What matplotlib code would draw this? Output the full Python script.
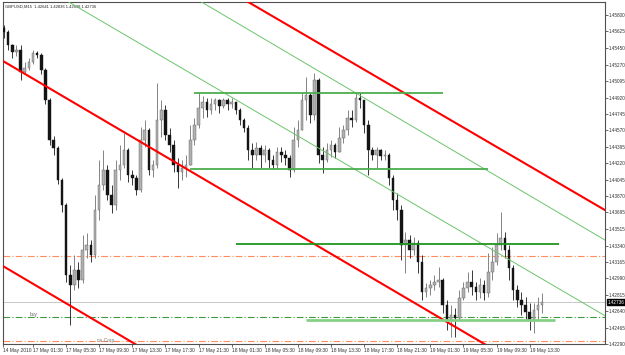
import numpy as np
import matplotlib.pyplot as plt
from matplotlib.transforms import blended_transform_factory

plt.rcParams['font.family'] = ['Liberation Sans', 'DejaVu Sans']

# GBPUSD candles (open of each bar = close of the bar before)
first_open = 1.4566
closes = [
    1.4562, 1.4548, 1.4541, 1.4543, 1.4519, 1.4523, 1.4530, 1.4539, 1.4537, 1.4521,
    1.4489, 1.4447, 1.4438, 1.4404, 1.4377, 1.4303, 1.4292, 1.4308, 1.4297, 1.4329,
    1.4335, 1.4324, 1.4372, 1.4399, 1.4415, 1.4388, 1.4377, 1.4415, 1.4420, 1.4436,
    1.4409, 1.4406, 1.4393, 1.4447, 1.4457, 1.4415, 1.4420, 1.4468, 1.4479, 1.4452,
    1.4441, 1.4420, 1.4412, 1.4417, 1.4420, 1.4447, 1.4463, 1.4481, 1.4487, 1.4479,
    1.4485, 1.4489, 1.4483, 1.4489, 1.4485, 1.4487, 1.4479, 1.4468, 1.4459, 1.4436,
    1.4431, 1.4438, 1.4431, 1.4436, 1.4425, 1.4420, 1.4434, 1.4431, 1.4427, 1.4415,
    1.4447, 1.4457, 1.4489, 1.4495, 1.4473, 1.4511, 1.4431, 1.4425, 1.4436, 1.4441,
    1.4434, 1.4449, 1.4457, 1.4470, 1.4468, 1.4491, 1.4489, 1.4463, 1.4436, 1.4431,
    1.4436, 1.4430, 1.4431, 1.4406, 1.4383, 1.4372, 1.4335, 1.4340, 1.4329, 1.4337,
    1.4316, 1.4284, 1.4289, 1.4292, 1.4295, 1.4297, 1.4271, 1.4255, 1.4260, 1.4257,
    1.4278, 1.4289, 1.4295, 1.4290, 1.4284, 1.4292, 1.4283, 1.4306, 1.4316, 1.4335,
    1.4342, 1.4329, 1.4310, 1.4287, 1.4276, 1.4271, 1.4263, 1.4255, 1.4265, 1.4271,
    1.42736,
]
highs = [
    1.4569, 1.4564, 1.4549, 1.4548, 1.4548, 1.4530, 1.4534, 1.4543, 1.4542, 1.4539,
    1.4523, 1.4491, 1.4451, 1.4440, 1.4406, 1.4379, 1.4313, 1.4324, 1.4316, 1.4345,
    1.4347, 1.4340, 1.4388, 1.4425, 1.4436, 1.4420, 1.4399, 1.4425, 1.4441, 1.4454,
    1.4438, 1.4415, 1.4409, 1.4460, 1.4468, 1.4459, 1.4425, 1.4508, 1.4489, 1.4484,
    1.4459, 1.4447, 1.4427, 1.4425, 1.4431, 1.4463, 1.4470, 1.4498, 1.4494, 1.4491,
    1.4491, 1.4492, 1.4490, 1.4492, 1.4491, 1.4492, 1.4487, 1.4481, 1.4470, 1.4463,
    1.4443, 1.4444, 1.4441, 1.4441, 1.4438, 1.4431, 1.4439, 1.4439, 1.4436, 1.4431,
    1.4460, 1.4468, 1.4497, 1.4514, 1.4497, 1.4518, 1.4513, 1.4439, 1.4443, 1.4447,
    1.4443, 1.4460, 1.4463, 1.4479, 1.4479, 1.4497, 1.4497, 1.4489, 1.4468, 1.4439,
    1.4439, 1.4437, 1.4436, 1.4433, 1.4409, 1.4390, 1.4377, 1.4348, 1.4345, 1.4343,
    1.4340, 1.4324, 1.4294, 1.4297, 1.4303, 1.4311, 1.4299, 1.4276, 1.4271, 1.4267,
    1.4287, 1.4295, 1.4306, 1.4308, 1.4295, 1.4299, 1.4297, 1.4326, 1.4332, 1.4347,
    1.4370, 1.4348, 1.4335, 1.4313, 1.4292, 1.4284, 1.4279, 1.4273, 1.4273, 1.4279,
    1.42836,
]
lows = [
    1.4556, 1.4543, 1.4534, 1.4536, 1.4511, 1.4518, 1.4521, 1.4528, 1.4534, 1.4517,
    1.4485, 1.4441, 1.4431, 1.4400, 1.4370, 1.4295, 1.4249, 1.4287, 1.4289, 1.4294,
    1.4321, 1.4316, 1.4321, 1.4361, 1.4393, 1.4383, 1.4369, 1.4372, 1.4404, 1.4417,
    1.4402, 1.4399, 1.4388, 1.4391, 1.4439, 1.4409, 1.4407, 1.4417, 1.4450, 1.4447,
    1.4434, 1.4412, 1.4395, 1.4404, 1.4407, 1.4420, 1.4441, 1.4459, 1.4470, 1.4471,
    1.4474, 1.4479, 1.4476, 1.4481, 1.4479, 1.4481, 1.4474, 1.4463, 1.4455, 1.4425,
    1.4417, 1.4425, 1.4417, 1.4423, 1.4417, 1.4416, 1.4417, 1.4423, 1.4420, 1.4407,
    1.4412, 1.4439, 1.4457, 1.4468, 1.4465, 1.4468, 1.4422, 1.4411, 1.4423, 1.4428,
    1.4427, 1.4434, 1.4443, 1.4452, 1.4460, 1.4466, 1.4481, 1.4454, 1.4409, 1.4425,
    1.4417, 1.4425, 1.4425, 1.4399, 1.4372, 1.4361, 1.4319, 1.4305, 1.4321, 1.4324,
    1.4305, 1.4276, 1.4279, 1.4281, 1.4287, 1.4290, 1.4262, 1.4244, 1.4236, 1.4236,
    1.4255, 1.4276, 1.4284, 1.4281, 1.4276, 1.4278, 1.4276, 1.4279, 1.4297, 1.4313,
    1.4329, 1.4321, 1.4297, 1.4276, 1.4268, 1.4260, 1.4255, 1.4244, 1.4241, 1.4255,
    1.4262,
]

date_labels = ["14 May 2010", "17 May 01:30", "17 May 05:30", "17 May 09:30", "17 May 13:30",
               "17 May 17:30", "17 May 21:30", "18 May 01:30", "18 May 05:30", "18 May 09:30",
               "18 May 13:30", "18 May 17:30", "18 May 21:30", "19 May 01:30", "19 May 05:30",
               "19 May 09:30", "19 May 13:30"]
price_ticks = [1.45800, 1.45625, 1.45450, 1.45270, 1.45095, 1.44920, 1.44745, 1.44570,
               1.44395, 1.44220, 1.44045, 1.43870, 1.43695, 1.43515, 1.43340, 1.43165,
               1.42990, 1.42815, 1.42640, 1.42465, 1.42290]

title_text = "GBPUSD,M15  1.42641 1.42836 1.42638 1.42736"
bid = 1.42736

# chart objects: (bar, price) anchors
red_lines = [[(0, 1.45303), (120, 1.42188)],
             [(0, 1.43115), (40, 1.42073)],
             [(55, 1.46042), (146, 1.43698)]]
green_lines = [[(15, 1.45956), (146, 1.42571)],
               [(45, 1.46010), (146, 1.43378)]]
levels = [1.44968, 1.44157, 1.43357, 1.42546]
level_from = [46, 45, 56, 73]
level_to = [106, 117, 134, 133]
orange_dash_levels = [1.43228, 1.42322]
buy_level = 1.42578

# ---------------------------------------------------------------
closes = np.array(closes)
highs = np.array(highs)
lows = np.array(lows)
opens = np.concatenate([[first_open], closes[:-1]])
x = np.arange(len(closes))

fig = plt.figure(figsize=(6.25, 3.55), dpi=100)
ax = fig.add_axes([3 / 625, 11 / 355, 602 / 625, 342 / 355])
ax.set_xlim(-0.24, 145.2)
ax.set_ylim(1.42290, 1.45939)

# horizontal price lines
ax.axhline(bid, color='#c8c8c8', lw=0.7, zorder=1)
for lv in orange_dash_levels:
    ax.axhline(lv, color='#ff8c5a', lw=0.8, dashes=(6, 2, 1, 2), zorder=1)
ax.axhline(buy_level, color='#3c9c3c', lw=0.8, dashes=(6, 2, 1, 2), zorder=1)

# candles
up = closes >= opens
wick_col = np.where(up, '#707070', '#181818')
ax.vlines(x, lows, highs, colors=wick_col, lw=0.6, zorder=2)
body_bottom = np.minimum(opens, closes)
body_h = np.maximum(np.abs(closes - opens), 0.00004)
ax.bar(x[up], body_h[up], bottom=body_bottom[up], width=0.62,
       color='#b0b0b0', edgecolor='#606060', lw=0.3, zorder=3)
ax.bar(x[~up], body_h[~up], bottom=body_bottom[~up], width=0.62,
       color='#141414', edgecolor='#141414', lw=0.3, zorder=3)

# trend lines
for (x0, y0), (x1, y1) in red_lines:
    ax.plot([x0, x1], [y0, y1], color='#ff0000', lw=1.5, zorder=4)
for (x0, y0), (x1, y1) in green_lines:
    ax.plot([x0, x1], [y0, y1], color='#6cc46c', lw=0.7, zorder=4)

level_colors = ['#4cae4c', '#4cae4c', '#1f961f', '#86d086']
level_widths = [1.3, 1.3, 1.3, 2.0]
for lv, a, b, c, w in zip(levels, level_from, level_to, level_colors, level_widths):
    ax.plot([a, b], [lv, lv], color=c, lw=w, zorder=4, solid_capstyle='butt')

ax.text(6.3, buy_level, 'buy', fontsize=3.5, color='#606060', va='bottom', ha='left')
ax.text(22.5, 1.42296, 'ns Corp.', fontsize=3.5, color='#808080', va='bottom', ha='left')
ax.text(0.003, 0.994, title_text, transform=ax.transAxes, fontsize=3.0,
        color='#202020', va='top', ha='left')

# axes styling
for s in ax.spines.values():
    s.set_color('#505050')
    s.set_linewidth(0.8)
ax.yaxis.tick_right()
ax.set_yticks(price_ticks)
ax.set_yticklabels([f"{p:.5f}" for p in price_ticks])
ax.tick_params(axis='y', labelsize=3.3, length=2.0, width=0.5, pad=0.6, colors='#303030')

tick_pos = [-0.24] + [7 + 8 * k for k in range(len(date_labels) - 1)]
ax.set_xticks(tick_pos)
ax.set_xticklabels(date_labels)
ax.tick_params(axis='x', labelsize=3.5, length=2.2, width=0.5, pad=0.8, colors='#303030')
for lab in ax.get_xticklabels():
    lab.set_ha('left')

trans = blended_transform_factory(ax.transAxes, ax.transData)
ax.text(1.0045, bid, f"{bid:.5f}", transform=trans, fontsize=3.3, color='white',
        va='center', ha='left', zorder=6,
        bbox=dict(boxstyle='square,pad=0.1', fc='black', ec='black'))

fig.savefig('out.png', dpi=100)
